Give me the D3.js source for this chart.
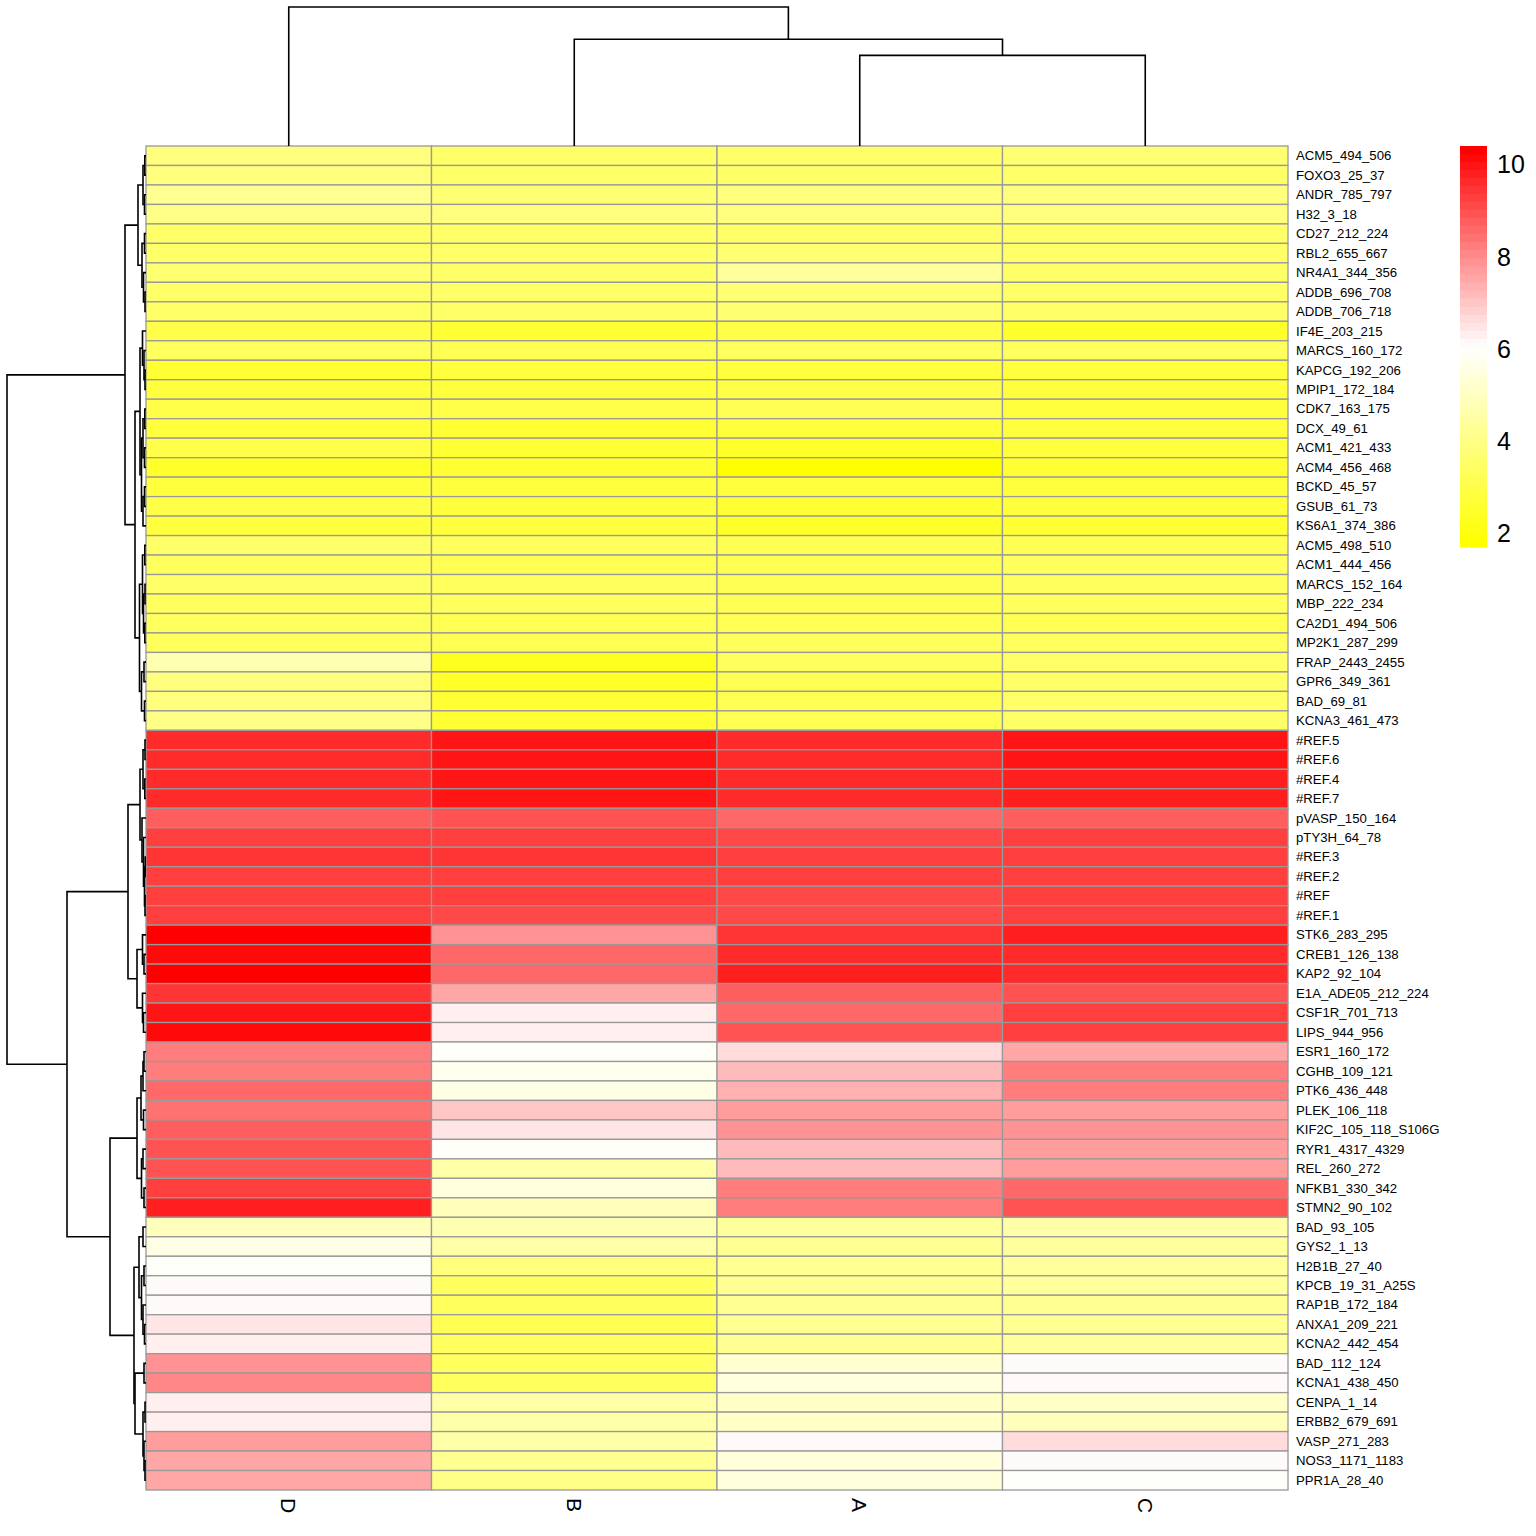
<!DOCTYPE html>
<html>
<head>
<meta charset="utf-8">
<script src="https://cdn.jsdelivr.net/npm/d3@7"></script>
<style>
  html, body { margin: 0; padding: 0; background: #fff; }
  svg { display: block; }
  text { font-family: "Liberation Sans", Arial, Helvetica, sans-serif; fill: #000; }
</style>
</head>
<body>
<svg id="chart" width="1536" height="1536"></svg>
<script>
// ---------------- DATA ----------------
const colLabels = ["D", "B", "A", "C"];

const rowLabels = [
  "ACM5_494_506", "FOXO3_25_37", "ANDR_785_797", "H32_3_18", "CD27_212_224",
  "RBL2_655_667", "NR4A1_344_356", "ADDB_696_708", "ADDB_706_718", "IF4E_203_215",
  "MARCS_160_172", "KAPCG_192_206", "MPIP1_172_184", "CDK7_163_175", "DCX_49_61",
  "ACM1_421_433", "ACM4_456_468", "BCKD_45_57", "GSUB_61_73", "KS6A1_374_386",
  "ACM5_498_510", "ACM1_444_456", "MARCS_152_164", "MBP_222_234", "CA2D1_494_506",
  "MP2K1_287_299", "FRAP_2443_2455", "GPR6_349_361", "BAD_69_81", "KCNA3_461_473",
  "#REF.5", "#REF.6", "#REF.4", "#REF.7", "pVASP_150_164",
  "pTY3H_64_78", "#REF.3", "#REF.2", "#REF", "#REF.1",
  "STK6_283_295", "CREB1_126_138", "KAP2_92_104", "E1A_ADE05_212_224", "CSF1R_701_713",
  "LIPS_944_956", "ESR1_160_172", "CGHB_109_121", "PTK6_436_448", "PLEK_106_118",
  "KIF2C_105_118_S106G", "RYR1_4317_4329", "REL_260_272", "NFKB1_330_342", "STMN2_90_102",
  "BAD_93_105", "GYS2_1_13", "H2B1B_27_40", "KPCB_19_31_A25S", "RAP1B_172_184",
  "ANXA1_209_221", "KCNA2_442_454", "BAD_112_124", "KCNA1_438_450", "CENPA_1_14",
  "ERBB2_679_691", "VASP_271_283", "NOS3_1171_1183", "PPR1A_28_40"
];

const valuesD = [
  3.9, 3.9, 4.2, 4.0, 3.5, 3.6, 3.7, 3.6, 3.5, 3.0,
  3.4, 2.6, 2.8, 3.0, 2.9, 3.0, 2.5, 2.9, 3.0, 2.8,
  3.5, 3.4, 3.6, 3.4, 3.3, 3.4, 4.8, 3.9, 3.9, 4.1,
  9.7, 9.6, 9.7, 9.6, 8.8, 9.3, 9.4, 9.3, 9.3, 9.2,
  10.4, 10.1, 10.4, 9.5, 10.0, 10.2, 8.2, 8.3, 8.5, 8.4,
  8.7, 8.9, 8.9, 9.3, 9.8, 5.0, 5.6, 5.9, 6.15, 6.2,
  6.4, 6.3, 7.9, 8.1, 6.3, 6.3, 7.7, 7.5, 7.6
];
const valuesB = [
  3.6, 3.5, 3.7, 3.8, 3.6, 3.5, 3.5, 3.6, 3.6, 2.7,
  3.1, 2.9, 2.9, 3.0, 2.6, 2.7, 2.6, 2.9, 2.9, 2.9,
  3.3, 3.2, 3.3, 3.3, 3.2, 3.2, 2.3, 2.5, 2.6, 2.6,
  9.9, 9.9, 9.9, 9.9, 9.0, 9.3, 9.4, 9.3, 9.2, 9.1,
  7.8, 8.5, 8.5, 7.6, 6.3, 6.3, 6.0, 5.8, 5.6, 7.0,
  6.5, 6.0, 4.5, 5.5, 5.0, 4.7, 4.6, 3.8, 3.3, 3.3,
  3.1, 3.3, 3.3, 3.4, 4.6, 4.6, 4.5, 4.2, 4.1
];
const valuesA = [
  3.6, 3.6, 3.8, 3.9, 3.6, 3.7, 4.4, 3.7, 3.7, 3.0,
  3.3, 2.9, 3.0, 3.2, 2.8, 2.4, 1.7, 2.9, 2.6, 2.5,
  3.1, 3.1, 3.2, 3.1, 3.1, 3.3, 3.3, 3.2, 3.2, 3.2,
  9.7, 9.6, 9.6, 9.6, 8.6, 9.1, 9.3, 9.2, 9.1, 9.1,
  9.4, 9.6, 9.8, 8.7, 8.6, 9.0, 6.6, 7.1, 7.3, 7.7,
  7.8, 7.1, 7.1, 8.2, 8.2, 4.4, 4.3, 4.2, 4.3, 4.2,
  4.2, 4.3, 5.3, 5.4, 5.1, 5.1, 6.1, 5.4, 5.4
];
const valuesC = [
  3.7, 3.6, 3.8, 3.8, 3.6, 3.5, 3.5, 3.6, 3.5, 2.5,
  3.3, 2.8, 2.9, 2.9, 2.8, 2.8, 2.6, 2.8, 2.9, 2.6,
  3.2, 3.3, 3.3, 3.3, 3.2, 3.3, 3.5, 3.5, 3.5, 3.5,
  9.9, 9.9, 9.8, 9.8, 8.8, 9.2, 9.3, 9.3, 9.2, 9.2,
  9.8, 9.7, 9.7, 9.0, 9.3, 9.2, 7.6, 8.2, 8.2, 7.7,
  7.8, 7.7, 7.7, 8.6, 8.9, 4.5, 4.4, 4.4, 4.4, 4.3,
  4.3, 4.4, 6.05, 6.2, 5.1, 5.0, 6.7, 6.05, 5.9
];

// dendrograms: [height, left, right]; leaves are row / column positions
const rowTree =
  [13.9,
    [2.1,
      [0.8,
        [0.3, [0.12, 0, 1], [0.15, 2, 3]],
        [0.4, [0.15, 4, 5], [0.25, 6, [0.1, 7, 8]]]],
      [1.1,
        [0.6,
          [0.35, 9, [0.2, 10, [0.1, 11, 12]]],
          [0.45, [0.3, [0.12, 13, 14], [0.15, 15, 16]], [0.3, [0.15, 17, 18], 19]]],
        [0.65,
          [0.35, [0.12, 20, 21], [0.25, [0.1, 22, 23], [0.12, 24, 25]]],
          [0.45, [0.2, 26, 27], [0.15, 28, 29]]]]],
    [7.9,
      [1.8,
        [0.6,
          [0.3, [0.1, 30, 31], [0.12, 32, 33]],
          [0.4, 34, [0.25, 35, [0.15, [0.08, 36, 37], [0.1, 38, 39]]]]],
        [0.9,
          [0.35, 40, [0.2, 41, 42]],
          [0.35, 43, [0.25, 44, 45]]]],
      [3.6,
        [0.9,
          [0.5, [0.3, [0.2, 46, 47], 48], [0.25, 49, 50]],
          [0.45, [0.3, 51, 52], [0.2, 53, 54]]],
        [1.2,
          [0.7, [0.3, 55, 56], [0.45, [0.2, 57, 58], [0.3, 59, [0.15, 60, 61]]]],
          [1.1, [0.2, 62, 63], [0.3, [0.1, 64, 65], [0.2, 66, [0.1, 67, 68]]]]]]]];

const colTree = [13.8, 0, [10.6, 1, [9.0, 2, 3]]];

const legendTicks = [2, 4, 6, 8, 10];
const nColors = 50;

// ---------------- LAYOUT ----------------
const gridL = 146, gridR = 1288, gridT = 146, gridB = 1490;
const svg = d3.select("#chart");

const x = d3.scaleBand().domain(d3.range(colLabels.length)).range([gridL, gridR]);
const y = d3.scaleBand().domain(d3.range(rowLabels.length)).range([gridT, gridB]);

const columns = [valuesD, valuesB, valuesA, valuesC];
const allVals = columns.flat();
const [vMin, vMax] = d3.extent(allVals);

const ramp = d3.scaleLinear().domain([0, 0.5, 1]).range(["#ffff00", "#ffffff", "#ff0000"]).interpolate(d3.interpolateRgb);
const palette = d3.range(nColors).map(i => ramp(i / (nColors - 1)));
const binScale = d3.scaleQuantize().domain([vMin, vMax]).range(palette);

// cells
const cells = [];
columns.forEach((vals, ci) => vals.forEach((v, ri) => cells.push({ci, ri, v})));
svg.append("g").selectAll("rect").data(cells).join("rect")
  .attr("x", d => x(d.ci))
  .attr("y", d => y(d.ri))
  .attr("width", x.bandwidth())
  .attr("height", y.bandwidth())
  .attr("fill", d => binScale(d.v))
  .attr("stroke", "#999999")
  .attr("stroke-width", 1.3);

// row labels
svg.append("g").selectAll("text").data(rowLabels).join("text")
  .attr("x", gridR + 8)
  .attr("y", (d, i) => y(i) + y.bandwidth() / 2)
  .attr("dominant-baseline", "central")
  .attr("font-size", "13.2px")
  .text(d => d);

// column labels (rotated)
svg.append("g").selectAll("text").data(colLabels).join("text")
  .attr("transform", (d, i) => `translate(${x(i) + x.bandwidth() / 2},${gridB + 8}) rotate(90)`)
  .attr("dominant-baseline", "central")
  .attr("font-size", "21px")
  .text(d => d);

// ---------------- DENDROGRAMS ----------------
function buildHierarchy(tree) {
  return d3.hierarchy(tree, d => Array.isArray(d) ? d.slice(1) : null);
}
function layoutDendro(root, leafPos) {
  root.eachAfter(n => {
    if (!n.children) { n.pos = leafPos(n.data); n.h = 0; }
    else { n.h = n.data[0]; n.pos = d3.mean(n.children, c => c.pos); }
  });
  return root;
}

// row dendrogram (left)
const rowRoot = layoutDendro(buildHierarchy(rowTree), i => y(i) + y.bandwidth() / 2);
const rowH = d3.scaleLinear().domain([0, rowTree[0]]).range([gridL, 7]);
const rowPaths = [];
rowRoot.each(n => {
  if (!n.children) return;
  const [a, b] = n.children;
  rowPaths.push(`M${rowH(a.h)},${a.pos}H${rowH(n.h)}V${b.pos}H${rowH(b.h)}`);
});
svg.append("g").selectAll("path").data(rowPaths).join("path")
  .attr("d", d => d).attr("fill", "none").attr("stroke", "#000").attr("stroke-width", 1.6);

// column dendrogram (top)
const colRoot = layoutDendro(buildHierarchy(colTree), i => x(i) + x.bandwidth() / 2);
const colH = d3.scaleLinear().domain([0, colTree[0]]).range([gridT, 7]);
const colPaths = [];
colRoot.each(n => {
  if (!n.children) return;
  const [a, b] = n.children;
  colPaths.push(`M${a.pos},${colH(a.h)}V${colH(n.h)}H${b.pos}V${colH(b.h)}`);
});
svg.append("g").selectAll("path").data(colPaths).join("path")
  .attr("d", d => d).attr("fill", "none").attr("stroke", "#000").attr("stroke-width", 1.6);

// ---------------- LEGEND ----------------
const legX = 1460, legW = 27, legT = 146, legB = 547;
const ly = d3.scaleLinear().domain([vMin, vMax]).range([legB, legT]);
const step = (vMax - vMin) / nColors;
svg.append("g").selectAll("rect").data(palette).join("rect")
  .attr("x", legX)
  .attr("y", (c, i) => ly(vMin + (i + 1) * step))
  .attr("width", legW)
  .attr("height", (c, i) => ly(vMin + i * step) - ly(vMin + (i + 1) * step) + 0.5)
  .attr("fill", c => c);
svg.append("g").selectAll("text").data(legendTicks).join("text")
  .attr("x", legX + legW + 10)
  .attr("y", d => ly(d))
  .attr("dominant-baseline", "central")
  .attr("font-size", "25px")
  .text(d => d);
</script>
</body>
</html>
